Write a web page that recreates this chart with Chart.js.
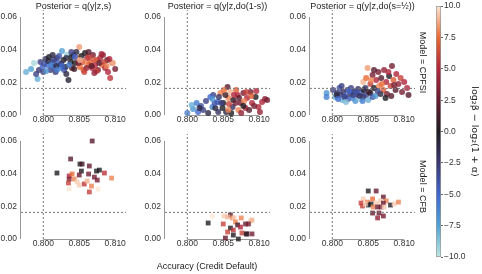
<!DOCTYPE html>
<html>
<head>
<meta charset="utf-8">
<script src="https://cdn.jsdelivr.net/npm/chart.js@4.4.0/dist/chart.umd.min.js"></script>
<style>
  body { margin: 0; background: #fff; }
  #fig { position: relative; width: 482px; height: 274px; overflow: hidden; }
  #fig canvas { position: absolute; }
</style>
</head>
<body>
<div id="fig"></div>
<script>
"use strict";

// Tick labels
const xTicks = [0.800, 0.805, 0.810];
const yTicks = [0.00, 0.02, 0.04, 0.06];
const cbarTicks = [-10, -7.5, -5, -2.5, 0, 2.5, 5, 7.5, 10];

const titles = ['Posterior = q(y|z,s)', 'Posterior = q(y|z,do(1-s))', 'Posterior = q(y|z,do(s=\u00BD))'];
const models = ['Model = CPFSI', 'Model = CFB'];
const xLabel = 'Accuracy (Credit Default)';
const cbarLabel = 'log\u2082\u03B2 \u2212 log\u2082(1 + \u03B1)';

// Reference lines
const refAccuracy = 0.800;
const refMetric = 0.0163;

// Points: [accuracy, metric, log2 beta - log2(1 + alpha)]
const cpfsiFactual = [
  [0.7976,0.0263,-8],[0.7983,0.0282,-7.5],[0.7987,0.0318,-9.5],[0.7992,0.0220,-8],[0.7990,0.0251,-3],
  [0.7994,0.0275,-2.5],[0.7996,0.0324,-3],[0.7999,0.0294,-5],[0.8000,0.0263,-3],[0.8003,0.0343,-2],
  [0.8006,0.0306,-5],[0.8008,0.0355,0],[0.8010,0.0275,-3],[0.8013,0.0324,-5.5],[0.8014,0.0294,-4.5],
  [0.8017,0.0263,-2.5],[0.8019,0.0349,-2],[0.8021,0.0318,-5],[0.8024,0.0288,-7],[0.8026,0.0392,-7.5],
  [0.8028,0.0337,0],[0.8031,0.0294,0],[0.8033,0.0367,-9],[0.8035,0.0214,-0.5],[0.8038,0.0324,0],
  [0.8040,0.0288,2],[0.8042,0.0367,-2],[0.8044,0.0318,0],[0.8047,0.0349,7.5],[0.8050,0.0416,8.5],
  [0.8051,0.0294,7.5],[0.8054,0.0324,5],[0.8056,0.0276,7],[0.8058,0.0379,0],[0.8061,0.0349,5],
  [0.8063,0.0306,7.5],[0.8065,0.0325,7],[0.8068,0.0288,5],[0.8069,0.0367,3],[0.8072,0.0306,5],
  [0.8075,0.0337,7.5],[0.8076,0.0276,3],[0.8079,0.0349,5],[0.8082,0.0306,7.5],[0.8083,0.0367,4],
  [0.8086,0.0288,5],[0.8089,0.0337,1],[0.8090,0.0263,5],[0.8093,0.0227,5.5],[0.8096,0.0318,7],
  [0.8097,0.0318,9],[0.8100,0.0282,3],[0.8001,0.0312,-4],[0.8007,0.0330,-1],[0.8011,0.0306,-6],
  [0.8015,0.0337,-3],[0.8018,0.0300,-1],[0.8022,0.0361,-4],[0.8025,0.0312,-2],[0.8029,0.0276,-4],
  [0.8032,0.0349,-1],[0.8036,0.0306,-6],[0.8039,0.0355,0],[0.8043,0.0282,1],[0.8046,0.0386,-1],
  [0.8049,0.0318,3],[0.8053,0.0361,0],[0.8057,0.0325,8],[0.8060,0.0288,4],[0.8064,0.0355,6],
  [0.8067,0.0300,2],[0.8071,0.0337,6.5],[0.8074,0.0269,6],[0.8078,0.0318,2],[0.8081,0.0373,4.5],
  [0.8085,0.0325,6],[0.8088,0.0300,8],[0.8092,0.0343,5],[0.8004,0.0269,-7],[0.8013,0.0367,-1],
  [0.8019,0.0276,-6],[0.8032,0.0251,-1],[0.8026,0.0300,-5],[0.8057,0.0263,6],[0.8071,0.0257,4],
  [0.8044,0.0355,-5],[0.8039,0.0386,-3],[0.8063,0.0386,2],[0.8051,0.0337,9]
];

const cpfsiFlipped = [
  [0.8000,0.0012,-6],[0.8008,0.0037,-7],[0.8015,0.0018,-5],[0.8022,0.0031,-3],[0.8035,0.0049,-6],
  [0.8036,0.0122,-3],[0.8042,0.0080,-5],[0.8043,0.0018,-2],[0.8046,0.0135,8],[0.8050,0.0073,0],
  [0.8056,0.0171,2],[0.8057,0.0104,8],[0.8060,0.0141,9],[0.8063,0.0049,-2],[0.8064,0.0092,0],
  [0.8070,0.0122,5],[0.8071,0.0031,8],[0.8074,0.0073,3],[0.8078,0.0135,3],[0.8081,0.0043,5],
  [0.8083,0.0104,5],[0.8088,0.0141,3],[0.8090,0.0073,5],[0.8095,0.0110,0],[0.8099,0.0049,5],
  [0.8104,0.0080,5],[0.8108,0.0098,4],[0.8111,0.0092,3],[0.8006,0.0061,-8],[0.8013,0.0073,-6],
  [0.8019,0.0055,-4],[0.8026,0.0086,-3],[0.8029,0.0012,-1],[0.8032,0.0110,-5],[0.8039,0.0043,-1],
  [0.8044,0.0110,-2],[0.8049,0.0043,0],[0.8053,0.0122,1],[0.8054,0.0018,-1],[0.8058,0.0067,6],
  [0.8061,0.0012,0],[0.8067,0.0073,3],[0.8068,0.0153,7],[0.8072,0.0104,2],[0.8075,0.0012,4],
  [0.8079,0.0086,8],[0.8082,0.0141,6],[0.8086,0.0031,2],[0.8089,0.0116,7],[0.8093,0.0055,3],
  [0.8096,0.0147,5],[0.8101,0.0018,4],[0.8051,0.0153,7.5],[0.8065,0.0122,5],[0.8057,0.0031,8],
  [0.8038,0.0073,-4],[0.8078,0.0055,0],[0.8035,0.0098,-7],[0.8017,0.0043,-1],[0.8047,0.0073,-3]
];

const cpfsiNeutral = [
  [0.7992,0.0135,-7],[0.7992,0.0110,-6],[0.8001,0.0153,-3],[0.8004,0.0110,-8],[0.8007,0.0135,-2],
  [0.8010,0.0165,-4],[0.8011,0.0122,-3],[0.8014,0.0092,-8],[0.8015,0.0141,-2],[0.8018,0.0116,-5],
  [0.8021,0.0153,-3],[0.8022,0.0098,-4],[0.8025,0.0129,-2],[0.8026,0.0165,-3],[0.8028,0.0104,-6],
  [0.8031,0.0141,-1],[0.8032,0.0086,-7],[0.8035,0.0122,-3],[0.8036,0.0159,-2],[0.8039,0.0098,-9],
  [0.8040,0.0135,-4],[0.8043,0.0110,-2],[0.8044,0.0153,0],[0.8047,0.0122,-3],[0.8050,0.0092,-8],
  [0.8053,0.0135,-1],[0.8056,0.0110,-4],[0.8006,0.0122,-1],[0.8017,0.0110,-3],[0.8024,0.0147,-5],
  [0.8029,0.0122,-3],[0.8033,0.0141,-4],[0.8038,0.0116,-2],[0.8042,0.0086,-6],[0.8019,0.0080,-8.5],
  [0.8008,0.0098,-5],[0.8046,0.0165,-2],[0.8060,0.0116,-7],[0.8013,0.0177,-3],
  [0.8043,0.0202,9],[0.8049,0.0288,8.5],[0.8047,0.0226,7.5],[0.8053,0.0190,6],[0.8056,0.0245,3],
  [0.8058,0.0165,0],[0.8061,0.0214,5],[0.8064,0.0263,3],[0.8065,0.0177,8],[0.8068,0.0226,2],
  [0.8071,0.0153,7],[0.8072,0.0275,4],[0.8075,0.0202,5],[0.8076,0.0129,3],[0.8079,0.0239,0],
  [0.8081,0.0177,6],[0.8083,0.0300,3],[0.8085,0.0214,7],[0.8088,0.0153,2],[0.8089,0.0251,5],
  [0.8092,0.0190,4],[0.8095,0.0226,6],[0.8097,0.0141,3],[0.8100,0.0202,5],[0.8104,0.0165,5],
  [0.8106,0.0122,2],[0.8051,0.0141,1],[0.8067,0.0129,-1],[0.8074,0.0104,0],[0.8082,0.0116,2],
  [0.8063,0.0147,-3],[0.8054,0.0214,8],[0.8078,0.0263,5],[0.8086,0.0184,3],[0.8069,0.0190,7.5],
  [0.8058,0.0275,2]
];

const cfbFactual = [
  [0.8068,0.0600,2],[0.8038,0.0490,2],[0.8051,0.0459,0],[0.8054,0.0459,1.5],[0.8064,0.0447,2.5],
  [0.8019,0.0404,0],[0.8053,0.0416,0],[0.8078,0.0422,0],[0.8074,0.0416,0],[0.8085,0.0404,5.5],
  [0.8036,0.0386,5],[0.8040,0.0398,7.5],[0.8050,0.0392,2.5],[0.8063,0.0398,3],[0.8071,0.0379,3],
  [0.8075,0.0361,3],[0.8095,0.0373,8],[0.8036,0.0367,3.5],[0.8043,0.0367,8],[0.8047,0.0349,9.5],
  [0.8035,0.0343,6],[0.8050,0.0330,9.5],[0.8057,0.0337,5.5],[0.8061,0.0355,9],[0.8067,0.0324,8],
  [0.8036,0.0306,10],[0.8064,0.0288,6],[0.8076,0.0306,10]
];

const cfbFlipped = [
  [0.8029,0.0098,0],[0.8035,0.0141,10],[0.8051,0.0141,9.5],[0.8060,0.0147,2],[0.8056,0.0135,9],
  [0.8063,0.0129,8],[0.8075,0.0129,8],[0.8065,0.0129,9.5],[0.8088,0.0110,9.5],[0.8090,0.0116,9],
  [0.8050,0.0092,6],[0.8067,0.0104,8],[0.8070,0.0086,1],[0.8074,0.0073,5],[0.8060,0.0067,0],
  [0.8064,0.0055,5.5],[0.8056,0.0043,6],[0.8081,0.0092,2.5],[0.8085,0.0092,3],[0.8076,0.0037,6],
  [0.8082,0.0031,0],[0.8083,0.0031,1],[0.8090,0.0031,3],[0.8064,0.0024,0],[0.8053,0.0006,2.5],
  [0.8071,0.0000,0]
];

const cfbNeutral = [
  [0.8050,0.0294,0],[0.8061,0.0294,2.5],[0.8071,0.0257,2.5],[0.8043,0.0245,9.5],[0.8049,0.0226,8],
  [0.8056,0.0245,7.5],[0.8040,0.0220,6],[0.8050,0.0208,0],[0.8054,0.0214,0],[0.8061,0.0220,9.5],
  [0.8067,0.0233,9.5],[0.8075,0.0233,8],[0.8071,0.0220,2.5],[0.8057,0.0196,8],[0.8063,0.0196,2.5],
  [0.8068,0.0196,3],[0.8072,0.0196,9.5],[0.8081,0.0208,0],[0.8086,0.0214,9.5],[0.8092,0.0226,8],
  [0.8056,0.0159,2.5],[0.8065,0.0159,2.5],[0.8071,0.0141,3],[0.8063,0.0129,4],[0.8042,0.0202,6],
  [0.8046,0.0214,9.5]
];

const panels = [
  [cpfsiFactual, cpfsiFlipped, cpfsiNeutral],
  [cfbFactual, cfbFlipped, cfbNeutral]
];

// Axis limits
const X_MIN = 0.7969, X_MAX = 0.8115;
const Y_MIN = 0, Y_MAX = 0.0643;

// icefire-like colormap
const icefire = [
  [0.000, [190, 232, 222]],
  [0.125, [82, 162, 212]],
  [0.250, [62, 102, 205]],
  [0.375, [60, 55, 112]],
  [0.500, [30, 28, 33]],
  [0.625, [102, 28, 48]],
  [0.750, [176, 38, 60]],
  [0.875, [232, 106, 52]],
  [1.000, [252, 230, 212]]
];

function cmap(v, alpha) {
  const t = Math.min(1, Math.max(0, (v + 10) / 20));
  let i = 0;
  while (i < icefire.length - 2 && t > icefire[i + 1][0]) i++;
  const [t0, c0] = icefire[i];
  const [t1, c1] = icefire[i + 1];
  const f = (t - t0) / (t1 - t0);
  const c = c0.map((a, k) => Math.round(a + (c1[k] - a) * f));
  return `rgba(${c[0]},${c[1]},${c[2]},${alpha})`;
}

const FONT = '"Liberation Sans", Arial, sans-serif';
const tickFont = { family: FONT, size: 8.5 };
const textColor = '#222';

// Trimmed spines like seaborn's despine(trim=True)
const spines = {
  id: 'spines',
  beforeDatasetsDraw(chart) {
    const { ctx, chartArea, scales } = chart;
    const x = scales.x, y = scales.y;
    ctx.save();
    ctx.strokeStyle = '#999';
    ctx.lineWidth = 1;
    ctx.beginPath();
    const lx = Math.round(chartArea.left) - 0.5;
    ctx.moveTo(lx, y.getPixelForValue(yTicks[0]));
    ctx.lineTo(lx, y.getPixelForValue(yTicks[yTicks.length - 1]));
    const by = Math.round(chartArea.bottom) + 0.5;
    ctx.moveTo(x.getPixelForValue(xTicks[0]), by);
    ctx.lineTo(x.getPixelForValue(xTicks[xTicks.length - 1]), by);
    ctx.stroke();
    ctx.restore();
  }
};

// Panel titles and the shared x label
const panelText = {
  id: 'panelText',
  afterDraw(chart, args, opts) {
    const { ctx, chartArea } = chart;
    ctx.save();
    ctx.fillStyle = textColor;
    ctx.font = '9px ' + FONT;
    ctx.textAlign = 'center';
    ctx.textBaseline = 'middle';
    if (opts.title) ctx.fillText(opts.title, (chartArea.left + chartArea.right) / 2, chartArea.top - 3);
    if (opts.note) ctx.fillText(opts.note.text, opts.note.x, opts.note.y);
    ctx.restore();
  }
};

function makeCanvas(left, top, w, h) {
  const c = document.createElement('canvas');
  c.width = w;
  c.height = h;
  c.style.left = left + 'px';
  c.style.top = top + 'px';
  c.style.width = w + 'px';
  c.style.height = h + 'px';
  document.getElementById('fig').appendChild(c);
  return c;
}

const colLeft = [21, 165, 310];
const rowTop = [10, 134];
const plotW = 105, plotH = 105, yAxisW = 21;

function drawPanel(points, row, col) {
  const isCircle = row === 0;
  const hasModel = col === 2;
  const xAxisH = row === 0 ? 16 : 35;
  const rightW = hasModel ? 15 : 0;
  const padR = hasModel ? 0 : 4;
  const left = colLeft[col] - yAxisW;
  const top = rowTop[row] - 10;
  const w = yAxisW + plotW + rightW + padR;
  const h = 10 + plotH + xAxisH;
  const canvas = makeCanvas(left, top, w, h);

  const refStyle = {
    type: 'line', borderColor: '#777', borderWidth: 1, borderDash: [2, 2],
    pointRadius: 0, fill: false, order: 0, clip: false
  };

  const scales = {
    x: {
      type: 'linear', min: X_MIN, max: X_MAX,
      afterBuildTicks: s => { s.ticks = xTicks.map(v => ({ value: v })); },
      afterFit: s => { s.height = xAxisH; },
      grid: { display: false, drawTicks: false }, border: { display: false },
      ticks: { padding: 0, color: '#333', font: tickFont, autoSkip: false, maxRotation: 0,
               callback: v => v.toFixed(3) }
    },
    y: {
      type: 'linear', min: Y_MIN, max: Y_MAX,
      afterBuildTicks: s => { s.ticks = yTicks.map(v => ({ value: v })); },
      afterFit: s => { s.width = yAxisW; },
      grid: { display: false, drawTicks: false }, border: { display: false },
      ticks: { padding: 4, color: '#333', font: tickFont, autoSkip: false,
               callback: v => v.toFixed(2) }
    }
  };
  if (hasModel) {
    scales.yr = {
      type: 'linear', position: 'right',
      afterFit: s => { s.width = rightW; },
      grid: { display: false, drawTicks: false }, border: { display: false },
      ticks: { display: false },
      title: { display: true, text: models[row], color: textColor,
               font: { family: FONT, size: 9 }, padding: { top: 2, bottom: 0 } }
    };
  }

  const textOpts = {};
  if (row === 0) textOpts.title = titles[col];
  if (row === 1 && col === 1) textOpts.note = { text: xLabel, x: 207 - left, y: 267 - top };

  new Chart(canvas, {
    type: 'scatter',
    data: {
      datasets: [
        Object.assign({ data: [{ x: refAccuracy, y: Y_MIN }, { x: refAccuracy, y: Y_MAX }] }, refStyle),
        Object.assign({ data: [{ x: X_MIN, y: refMetric }, { x: X_MAX, y: refMetric }] }, refStyle),
        {
          data: points.map(p => ({ x: p[0], y: p[1] })),
          pointStyle: isCircle ? 'circle' : 'rect',
          pointRadius: isCircle ? 3 : 3.4,
          pointBackgroundColor: points.map(p => cmap(p[2], 0.8)),
          pointBorderWidth: 0,
          clip: false,
          order: 1
        }
      ]
    },
    options: {
      responsive: false,
      animation: false,
      devicePixelRatio: 1,
      layout: { padding: { top: 10, right: padR, left: 0, bottom: 0 } },
      plugins: { legend: { display: false }, tooltip: { enabled: false }, panelText: textOpts },
      scales: scales
    },
    plugins: [spines, panelText]
  });
}

panels.forEach((rowData, row) => rowData.forEach((points, col) => drawPanel(points, row, col)));

// Colorbar as a single floating bar with a gradient fill
function drawColorbar() {
  const canvas = makeCanvas(430, 0, 52, 274);
  new Chart(canvas, {
    type: 'bar',
    data: {
      labels: [''],
      datasets: [{
        data: [[cbarTicks[0], cbarTicks[cbarTicks.length - 1]]],
        backgroundColor(ctx) {
          const area = ctx.chart.chartArea;
          if (!area) return '#000';
          const g = ctx.chart.ctx.createLinearGradient(0, area.bottom, 0, area.top);
          for (let i = 0; i <= 40; i++) g.addColorStop(i / 40, cmap(-10 + i / 2, 1));
          return g;
        },
        borderColor: '#999',
        borderWidth: 1,
        borderSkipped: false,
        categoryPercentage: 1,
        barPercentage: 1
      }]
    },
    options: {
      responsive: false,
      animation: false,
      devicePixelRatio: 1,
      layout: { padding: { left: 6, top: 5, bottom: 17, right: 0 } },
      plugins: { legend: { display: false }, tooltip: { enabled: false } },
      scales: {
        x: { display: false },
        y: {
          position: 'right', min: -10, max: 10,
          afterBuildTicks: s => { s.ticks = cbarTicks.map(v => ({ value: v })); },
          afterFit: s => { s.width = 41; },
          grid: { drawOnChartArea: false, drawTicks: true, tickLength: 2, tickColor: '#666' },
          border: { display: false },
          ticks: { padding: 1, color: '#333', font: tickFont, autoSkip: false,
                   callback: v => v.toFixed(1).replace('-', '\u2212') },
          title: { display: true, text: cbarLabel, color: textColor,
                   font: { family: '"DejaVu Sans", sans-serif', size: 9.5 }, padding: { top: 2, bottom: 0 } }
        }
      }
    }
  });
}

drawColorbar();
</script>
</body>
</html>
